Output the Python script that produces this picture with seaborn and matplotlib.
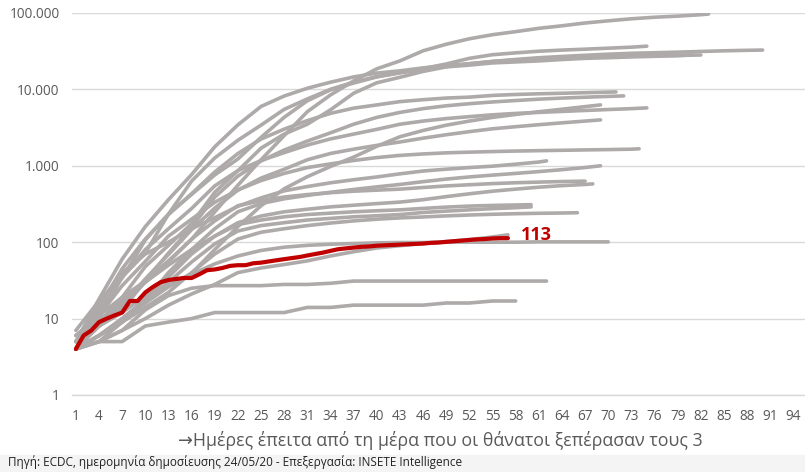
import pandas as pd
import matplotlib.pyplot as plt
import seaborn as sns
from matplotlib.patches import Rectangle

# --- data (cumulative deaths) ---
# gray countries: values every 3 days (1, 4, 7, ...) up to the last day, then the last day's value
sample_days = [1, 4, 7, 10, 13, 16, 19, 22, 25, 28, 31, 34, 37, 40, 43,
               46, 49, 52, 55, 58, 61, 64, 67, 70, 73, 76, 79, 82, 85, 88]

c01 = [6, 11, 19, 31, 57, 109, 249, 556, 1199, 2484, 5110, 8454, 12895, 18600, 23600,
       32000, 39000, 46000, 52000, 57000, 63000, 68000, 74000, 79000, 84000, 88000, 91000, 95000, 97000]
c02 = [7, 17, 34, 107, 233, 631, 1266, 2158, 3405, 5476, 7503, 10023, 12428, 14681, 16523,
       18279, 19899, 21645, 23227, 24648, 25969, 26977, 27967, 28884, 29684, 30201, 30739, 31368,
       32007, 32486, 32735]
c03 = [6, 10, 35, 72, 233, 422, 759, 1228, 2352, 4313, 7097, 9875, 12107, 14576, 16509,
       18738, 21500, 25500, 28446, 30076, 31587, 32692, 33614, 34636, 35704, 36793]
c04 = [5, 18, 60, 160, 360, 767, 1772, 3434, 5982, 8189, 10348, 12418, 14555, 16353, 17489,
       19130, 20453, 21717, 23190, 24275, 25100, 25857, 26478, 26920, 27321, 27650, 27888, 28200]
c05 = [4, 9, 19, 48, 91, 175, 450, 860, 1700, 2600, 3500, 5400, 8900, 12200, 14400,
       17200, 19700, 20800, 22200, 22900, 23600, 24600, 25500, 26000, 26600, 27100, 27600, 28300]
c06 = [4, 14, 45, 110, 230, 431, 828, 1447, 2240, 3019, 3903, 4857, 5683, 6262, 6917,
       7331, 7703, 7924, 8339, 8581, 8761, 8903, 9052, 9212, 9270]
c07 = [4, 8, 13, 31, 72, 157, 389, 732, 1158, 1607, 2107, 2700, 3500, 4300, 5000,
       5600, 6100, 6500, 6850, 7150, 7450, 7700, 7900, 8100, 8220]
c08 = [4, 12, 35, 80, 150, 276, 546, 864, 1173, 1487, 1867, 2248, 2600, 3000, 3500,
       3850, 4150, 4400, 4650, 4850, 5000, 5150, 5300, 5450, 5600, 5730]
c09 = [4, 8, 12, 20, 27, 39, 80, 160, 300, 500, 720, 980, 1300, 1800, 2400,
       2900, 3400, 3850, 4300, 4700, 5100, 5500, 5950, 6270]
c10 = [5, 8, 15, 33, 69, 146, 280, 480, 690, 900, 1200, 1450, 1650, 1850, 2050,
       2300, 2550, 2800, 3050, 3250, 3450, 3650, 3850, 3990]
c11 = [4, 11, 27, 56, 120, 200, 333, 484, 641, 795, 948, 1059, 1174, 1281, 1368,
       1429, 1478, 1509, 1536, 1560, 1578, 1596, 1614, 1630, 1650, 1670]
c12 = [4, 16, 40, 70, 100, 150, 209, 295, 380, 470, 535, 599, 657, 714, 785,
       854, 903, 948, 989, 1050, 1120, 1160]
c13 = [4, 5, 9, 17, 40, 80, 150, 250, 320, 370, 410, 450, 490, 530, 570,
       620, 670, 715, 755, 795, 840, 890, 950, 1000]
c14 = [5, 8, 15, 30, 55, 110, 190, 300, 350, 390, 420, 445, 465, 480, 495,
       520, 545, 565, 585, 600, 612, 622, 630]
c15 = [4, 6, 10, 18, 35, 70, 120, 180, 220, 250, 270, 290, 305, 320, 335,
       360, 395, 430, 465, 495, 525, 550, 570, 580]
c16 = [5, 9, 17, 30, 50, 80, 120, 170, 195, 215, 230, 240, 250, 258, 265,
       277, 288, 297, 303, 307, 310]
c17 = [4, 6, 10, 16, 30, 55, 95, 140, 165, 180, 195, 205, 215, 222, 230,
       245, 255, 265, 275, 283, 290]
c18 = [4, 6, 9, 14, 22, 40, 70, 110, 135, 150, 165, 178, 190, 200, 208,
       214, 221, 227, 232, 236, 239, 241, 243]
c19 = [4, 6, 9, 16, 26, 38, 52, 66, 78, 86, 91, 94, 96, 98, 99,
       99, 100, 100, 100, 100, 101, 101, 101, 101]
c20 = [4, 5, 7, 10, 15, 21, 28, 40, 46, 51, 57, 66, 75, 84, 90,
       96, 102, 108, 117, 125]
c21 = [4, 5, 7, 13, 20, 25, 27, 27, 27, 28, 28, 29, 31, 31, 31,
       31, 31, 31, 31, 31, 31, 31]
c22 = [4, 5, 5, 8, 9, 10, 12, 12, 12, 12, 14, 14, 15, 15, 15,
       15, 16, 16, 17, 17]

gray_curves = [c01, c02, c03, c04, c05, c06, c07, c08, c09, c10, c11,
               c12, c13, c14, c15, c16, c17, c18, c19, c20, c21, c22]
gray_last_day = [83, 90, 75, 82, 81, 71, 72, 75, 69, 69, 74,
                 62, 69, 67, 68, 60, 60, 66, 70, 57, 62, 58]

# Greece, daily
greece = [4, 6, 7, 9, 10, 11, 12, 17, 17, 22, 26, 30, 32, 33, 34, 34, 38, 43, 44, 46,
          49, 50, 50, 53, 54, 56, 58, 60, 62, 64, 67, 70, 73, 77, 81, 83, 85, 87, 88, 90,
          91, 92, 93, 94, 95, 96, 98, 99, 101, 103, 105, 107, 109, 110, 112, 113, 113]
greece_days = list(range(1, len(greece) + 1))

y_ticks = [1, 10, 100, 1000, 10000, 100000]
y_tick_labels = ['1', '10', '100', '1.000', '10.000', '100.000']
x_ticks = list(range(1, 95, 3))

x_title = '\u2192Ημέρες έπειτα από τη μέρα που οι θάνατοι ξεπέρασαν τους 3'
source_note = 'Πηγή: ECDC, ημερομηνία δημοσίευσης 24/05/20 - Επεξεργασία: INSETE Intelligence'

GRAY = '#aeaaaa'
RED = '#c00000'
GRID = '#d9d9d9'
TXT = '#595959'

# long table for the gray lines
rows = []
for i, (vals, last) in enumerate(zip(gray_curves, gray_last_day)):
    days = [d for d in sample_days if d < last] + [last]
    assert len(days) == len(vals), (i, len(days), len(vals))
    for d, v in zip(days, vals):
        rows.append({'series': i, 'day': d, 'deaths': v})
gray_df = pd.DataFrame(rows)

sns.set_style('white')
plt.rcParams['font.family'] = ['Open Sans', 'DejaVu Sans']

fig = plt.figure(figsize=(8.05, 4.72), dpi=100)
ax = fig.add_axes([72 / 805, 1 - 395 / 472, 1 - 72 / 805, (395 - 13) / 472])

# faint band behind the source line
fig.patches.append(Rectangle((0, 0), 1, 17 / 472, transform=fig.transFigure,
                             color='#f4f4f4', zorder=-1))

sns.lineplot(data=gray_df, x='day', y='deaths', units='series', estimator=None,
             color=GRAY, lw=2.6, sort=False, ax=ax,
             solid_joinstyle='round', solid_capstyle='round')
sns.lineplot(x=greece_days, y=greece, color=RED, lw=3.0, ax=ax,
             solid_joinstyle='round', solid_capstyle='round')

ax.annotate(str(greece[-1]), xy=(greece_days[-1], greece[-1]), xytext=(9, 2),
            textcoords='offset points', color=RED, fontsize=13, fontweight='bold',
            va='center', ha='left')

ax.set_yscale('log')
ax.set_ylim(1, 100000)
ax.set_yticks(y_ticks)
ax.set_yticklabels(y_tick_labels)
ax.yaxis.set_minor_locator(plt.NullLocator())
ax.set_xlim(0.5, 95.5)
ax.set_xticks(x_ticks)
ax.set_xticks([d + 0.5 for d in range(0, 96)], minor=True)

ax.grid(axis='y', color=GRID, lw=1)
ax.grid(axis='x', visible=False)
for side in ['top', 'right', 'left']:
    ax.spines[side].set_visible(False)
ax.spines['bottom'].set_color(GRID)
ax.spines['bottom'].set_linewidth(1)

ax.tick_params(axis='y', length=0, pad=9, labelsize=9.8, labelcolor=TXT)
ax.tick_params(axis='x', which='major', length=0, pad=10, labelsize=9.8, labelcolor=TXT)
ax.tick_params(axis='x', which='minor', length=4, width=0.8, color=GRID)
ax.set_xlabel('')
ax.set_ylabel('')

fig.text(0.547, 1 - 440 / 472, x_title, ha='center', va='center', fontsize=12.8, color=TXT)
fig.text(8 / 805, 1 - 462 / 472, source_note, ha='left', va='center', fontsize=8.45, color='#222222')

fig.savefig('out.png', dpi=100)
